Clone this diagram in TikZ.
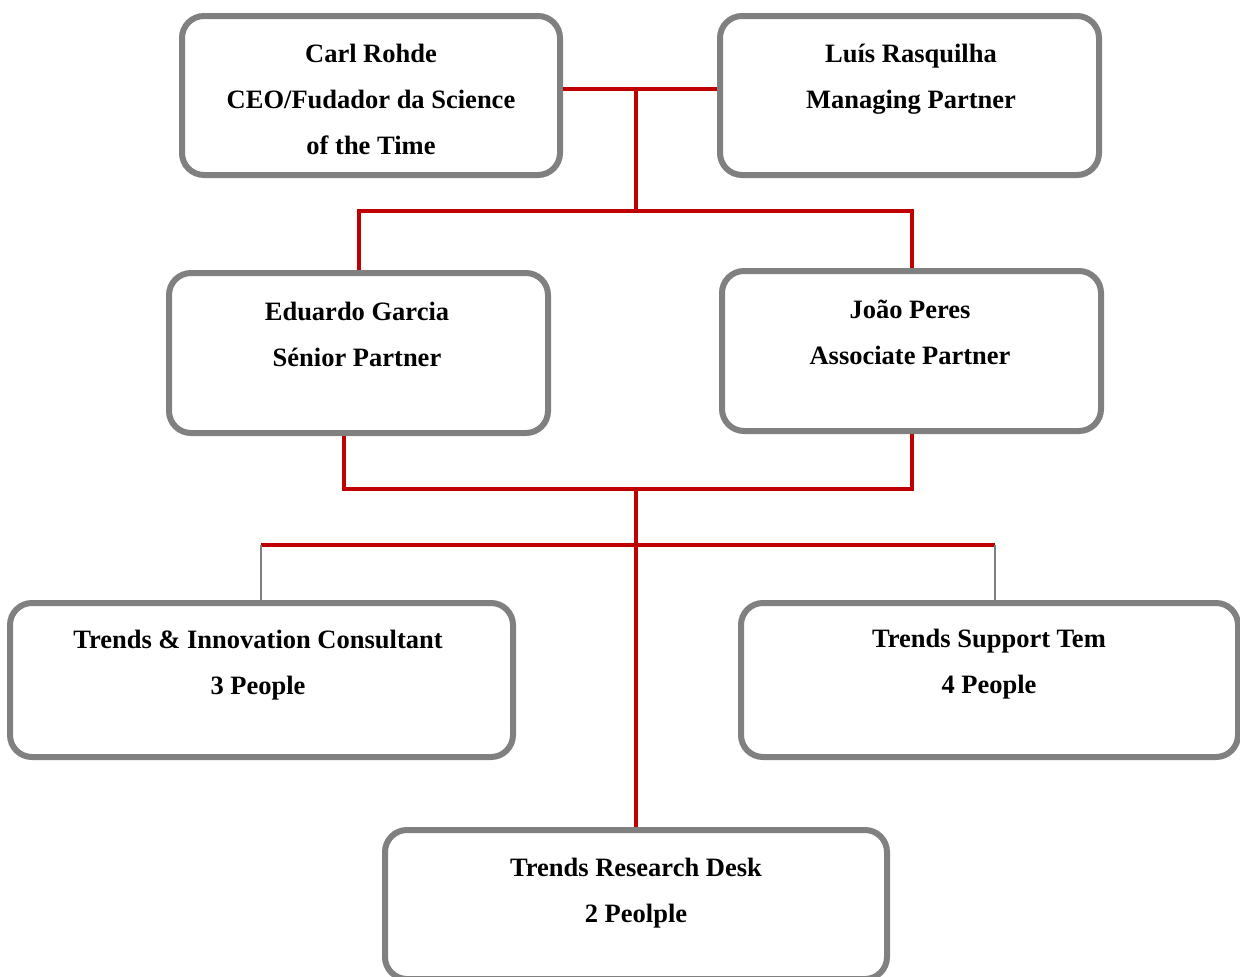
\documentclass[tikz,border=0pt]{standalone}
\usepackage{fontspec}
\setmainfont{Liberation Serif}
\definecolor{boxgray}{HTML}{808080}
\definecolor{linered}{HTML}{C00000}
\begin{document}
\begin{tikzpicture}[x=1pt,y=-1pt,
  box/.style={draw=boxgray, line width=6pt, rounded corners=22pt, fill=white, inner sep=0pt},
  txt/.style={anchor=north, align=center, inner sep=0pt, font=\fontsize{26.5}{46}\selectfont\bfseries},
  redline/.style={draw=linered, line width=4.5pt},
  grayline/.style={draw=boxgray, line width=2.2pt}]
\clip (0,0) rectangle (1240,977);
\fill[white] (0,0) rectangle (1240,977);
% boxes
\node[box, minimum width=378pt, minimum height=159pt] (carl) at (371,95.5) {};
\node[box, minimum width=379pt, minimum height=159pt] (luis) at (909.5,95.5) {};
\node[box, minimum width=379pt, minimum height=160pt] (edu) at (358.5,353) {};
\node[box, minimum width=379pt, minimum height=160pt] (joao) at (911.5,351) {};
\node[box, minimum width=503pt, minimum height=154pt] (tic) at (261.5,680) {};
\node[box, minimum width=497pt, minimum height=154pt] (tst) at (989.5,680) {};
\node[box, minimum width=502pt, minimum height=149pt] (trd) at (636,904.5) {};
% texts
\node[txt] (carl-t) at (371,43.5) {Carl Rohde\\CEO/Fudador da Science\\of the Time};
\node[txt] (luis-t) at (911,43.5) {Luís Rasquilha\\Managing Partner};
\node[txt] (edu-t) at (357,301.5) {Eduardo Garcia\\Sénior Partner};
\node[txt] (joao-t) at (910,299.5) {João Peres\\Associate Partner};
\node[txt] (tic-t) at (258,629.5) {Trends \& Innovation Consultant\\3 People};
\node[txt] (tst-t) at (989,628.5) {Trends Support Tem\\4 People};
\node[txt] (trd-t) at (636,857.5) {Trends Research Desk\\2 Peolple};
% junction coordinates
\coordinate (j1) at (636,89);
\coordinate (j2) at (636,211);
\coordinate (j2l) at (359,211);
\coordinate (j2r) at (912,211);
\coordinate (j3l) at (344,489);
\coordinate (j3) at (636,489);
\coordinate (j3r) at (912,489);
\coordinate (j4l) at (261,545);
\coordinate (j4r) at (995,545);
% connectors
\draw[redline] (carl.east |- j1) -- (luis.west |- j1);
\draw[redline] (j1) -- (j2);
\draw[redline] (edu.north -| j2l) |- (j2r) -- (joao.north -| j2r);
\draw[redline] (edu.south -| j3l) |- (j3r) -- (joao.south -| j3r);
\draw[redline] (j3) -- (trd.north);
\draw[redline] (j4l) -- (j4r);
\draw[grayline] (j4l) -- (tic.north -| j4l);
\draw[grayline] (j4r) -- ([yshift=-3pt]tst.north -| j4r);
\end{tikzpicture}
\end{document}
